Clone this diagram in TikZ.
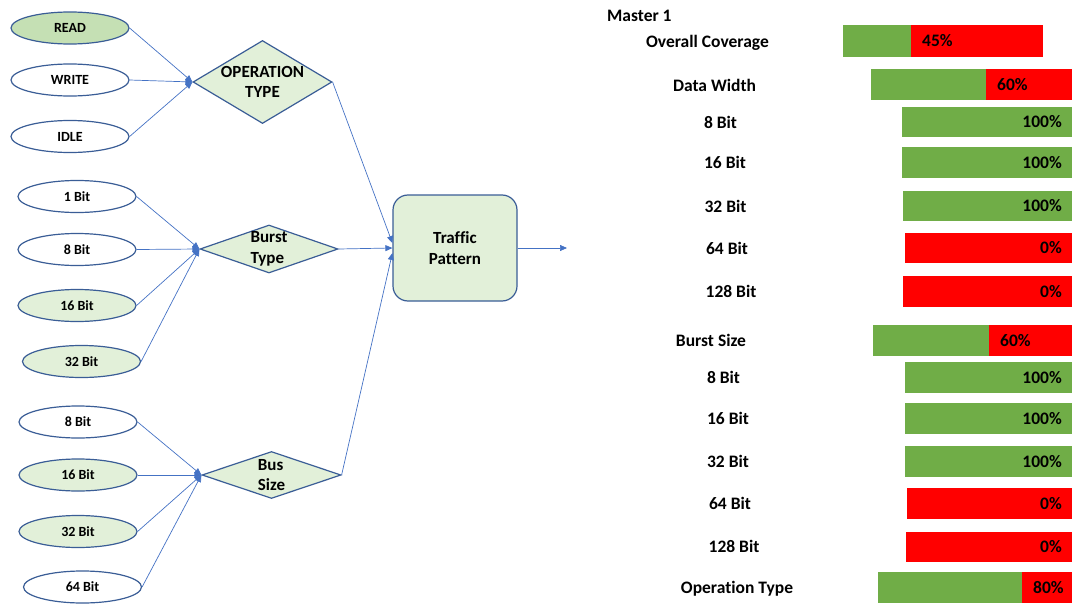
\documentclass[tikz,border=0pt]{standalone}
\usepackage{fontspec}
\setmainfont{Carlito}[Ligatures=NoCommon]
\usetikzlibrary{shapes.geometric,arrows.meta,calc}
\definecolor{edgeblue}{HTML}{4472C4}
\definecolor{rimblue}{HTML}{3A5D96}
\definecolor{paleg}{HTML}{E2F0D9}
\definecolor{readg}{HTML}{C5E0B4}
\definecolor{bargreen}{HTML}{70AD47}
\definecolor{barred}{HTML}{FF0000}
\tikzset{
  choice/.style={ellipse, draw=rimblue, line width=1.2pt, fill=white,
    minimum width=118pt, minimum height=32pt, inner sep=0pt,
    font=\fontsize{14}{16}\selectfont\bfseries},
  picked/.style={choice, fill=paleg},
  dia/.style={diamond, draw=rimblue, fill=paleg, line width=1.2pt, inner sep=0pt},
  dlabel/.style={inner sep=0pt, font=\fontsize{17}{20.5}\selectfont\bfseries},
  link/.style={draw=edgeblue, line width=0.7pt, -{Triangle[length=7pt,width=6pt]}},
  rowtext/.style={anchor=base, inner sep=0pt, font=\fontsize{17.5}{20}\selectfont\bfseries},
  pct/.style={inner sep=0pt, font=\fontsize{17.5}{20}\selectfont\bfseries},
}
\begin{document}
\begin{tikzpicture}[x=1pt,y=-1pt]
\useasboundingbox (0,0) rectangle (1072,605);

% ---------- operation type ----------
\node[choice, fill=readg] (read) at (70,28) {READ};
\node[choice] (write) at (70,80) {WRITE};
\node[choice] (idle) at (70,136.5) {IDLE};
\node[dia, minimum width=139pt, minimum height=83pt] (op) at (262.5,82) {};
\node[dlabel, align=center] (opt) at (op.center) {OPERATION\\TYPE};

% ---------- burst type ----------
\node[choice] (b1) at (77,196.5) {1 Bit};
\node[choice] (b8) at (77,249.5) {8 Bit};
\node[picked] (b16) at (77,305.5) {16 Bit};
\node[picked] (b32) at (81.5,361.5) {32 Bit};
\node[dia, minimum width=138pt, minimum height=48pt] (bt) at (269,249) {};
\node[dlabel, align=left] (btt) at (bt.center) {Burst\\Type};

% ---------- bus size ----------
\node[choice] (s8) at (78,422) {8 Bit};
\node[picked] (s16) at (78,475) {16 Bit};
\node[picked] (s32) at (78,531.5) {32 Bit};
\node[choice] (s64) at (82.5,587) {64 Bit};
\node[dia, minimum width=139pt, minimum height=47pt] (bs) at (271.5,475) {};
\node[dlabel, align=left] (bst) at (bs.center) {Bus\\Size};

% ---------- traffic pattern ----------
\node[draw=rimblue, fill=paleg, line width=1.2pt, rounded corners=15pt,
      minimum width=124pt, minimum height=106pt, align=center,
      font=\fontsize{17}{20.5}\selectfont\bfseries] (tp) at (455,248) {Traffic\\Pattern};
\coordinate (out) at (567,248);

% ---------- connectors ----------
\foreach \s in {read,write,idle} \draw[link] (\s.east) -- (op.west);
\foreach \s in {b1,b8,b16,b32} \draw[link] (\s.east) -- (bt.west);
\foreach \s in {s8,s16,s32,s64} \draw[link] (\s.east) -- (bs.west);
\draw[link] (op.east) -- ($(tp.west)+(0,-5)$);
\draw[link] (bt.east) -- (tp.west);
\draw[link] (bs.east) -- ($(tp.west)+(0,5)$);
\draw[link] (tp.east) -- (out);

% ---------- coverage report ----------
\node[anchor=base west, inner sep=0pt, font=\fontsize{17.5}{20}\selectfont\bfseries] (m1) at (607,21) {Master 1};

% split bars: green part, red part
\fill[bargreen] (843,25) rectangle (911,57);
\fill[barred] (911,25) rectangle (1043,57);
\fill[bargreen] (871,69) rectangle (986,100);
\fill[barred] (986,69) rectangle (1072,100);
\fill[bargreen] (873,325) rectangle (989,356);
\fill[barred] (989,325) rectangle (1072,356);
\fill[bargreen] (878,572) rectangle (1022,603);
\fill[barred] (1022,572) rectangle (1072,603);
% full bars
\fill[bargreen] (902,107) rectangle (1072,137);
\fill[bargreen] (902,147) rectangle (1072,178);
\fill[bargreen] (903,191) rectangle (1072,221);
\fill[barred] (905,233) rectangle (1072,263);
\fill[barred] (903,276) rectangle (1072,307);
\fill[bargreen] (905,362) rectangle (1072,393);
\fill[bargreen] (905,403) rectangle (1072,434);
\fill[bargreen] (905,446) rectangle (1072,477);
\fill[barred] (907,488) rectangle (1072,519);
\fill[barred] (906,532) rectangle (1072,562);

% row labels
\node[rowtext] (r1) at (707.5,47.7) {Overall Coverage};
\node[rowtext] (r2) at (714.5,91.5) {Data Width};
\node[rowtext] (r3) at (720.5,128.5) {8 Bit};
\node[rowtext] (r4) at (725,168.5) {16 Bit};
\node[rowtext] (r5) at (725.5,212.5) {32 Bit};
\node[rowtext] (r6) at (727,254.5) {64 Bit};
\node[rowtext] (r7) at (731,297.5) {128 Bit};
\node[rowtext] (r8) at (711,346.5) {Burst Size};
\node[rowtext] (r9) at (723.5,383.5) {8 Bit};
\node[rowtext] (r10) at (728,424.5) {16 Bit};
\node[rowtext] (r11) at (728,467.5) {32 Bit};
\node[rowtext] (r12) at (730,509.5) {64 Bit};
\node[rowtext] (r13) at (734,552.5) {128 Bit};
\node[rowtext] (r14) at (737,593.5) {Operation Type};

% percentages
\node[pct, anchor=base west] (p1) at (922,46.7) {45\%};
\node[pct, anchor=base west] (p2) at (997,90.2) {60\%};
\node[pct, anchor=base east] (p3) at (1062,127.7) {100\%};
\node[pct, anchor=base east] (p4) at (1062,168.2) {100\%};
\node[pct, anchor=base east] (p5) at (1062,211.7) {100\%};
\node[pct, anchor=base east] (p6) at (1062,253.7) {0\%};
\node[pct, anchor=base east] (p7) at (1062,297.2) {0\%};
\node[pct, anchor=base west] (p8) at (1000,346.2) {60\%};
\node[pct, anchor=base east] (p9) at (1062,383.2) {100\%};
\node[pct, anchor=base east] (p10) at (1062,424.2) {100\%};
\node[pct, anchor=base east] (p11) at (1062,467.2) {100\%};
\node[pct, anchor=base east] (p12) at (1062,509.2) {0\%};
\node[pct, anchor=base east] (p13) at (1062,552.7) {0\%};
\node[pct, anchor=base west] (p14) at (1033,593.2) {80\%};
\end{tikzpicture}
\end{document}
